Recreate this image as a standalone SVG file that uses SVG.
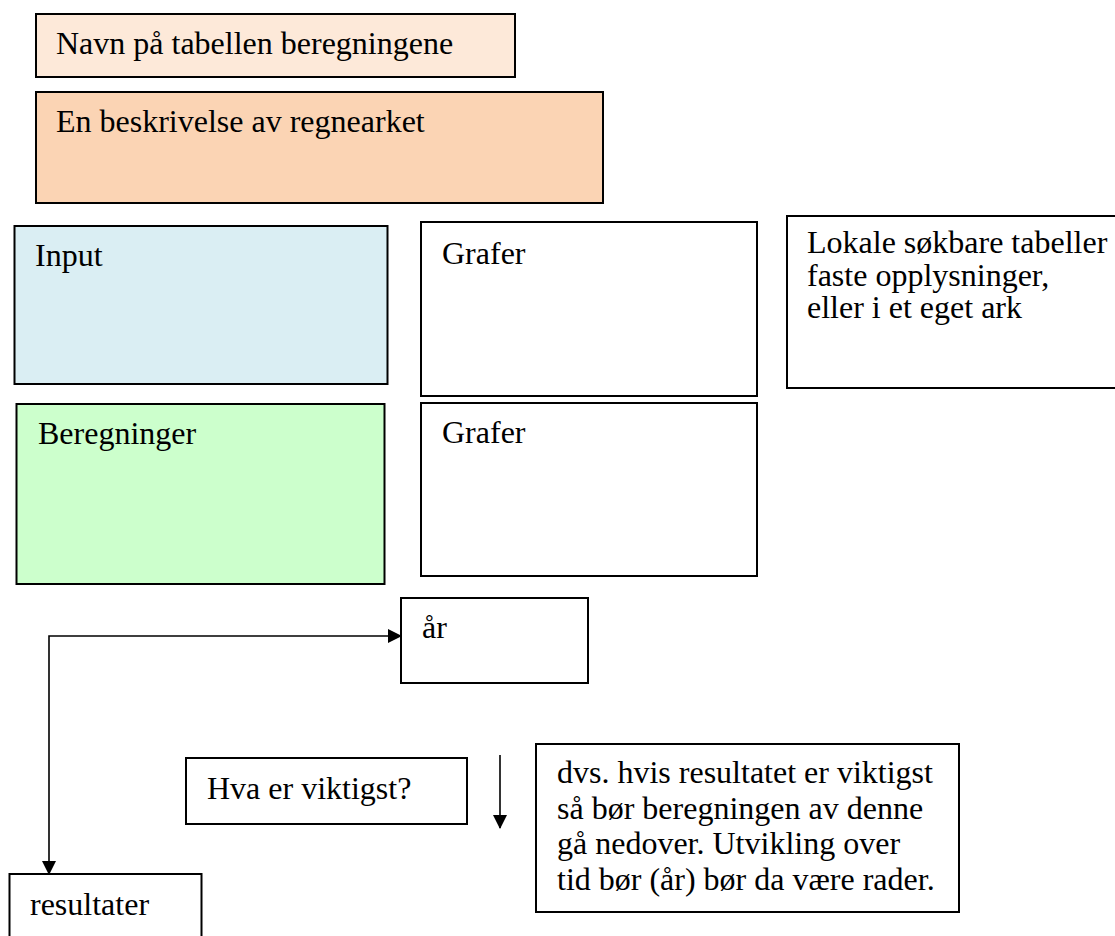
<svg xmlns="http://www.w3.org/2000/svg" width="1115" height="936" viewBox="0 0 1115 936">
<style>
.box{stroke:#000;stroke-width:2}
.t{font-family:"Liberation Serif","Times New Roman",serif;font-size:32px;fill:#000}
.con{fill:none;stroke:#000;stroke-width:1.6}
</style>
<defs>
<marker id="ah" viewBox="0 0 14 14" refX="13" refY="7" markerWidth="14" markerHeight="14" markerUnits="userSpaceOnUse" orient="auto-start-reverse">
<path d="M0,0 L14,7 L0,14 Z" fill="#000"/>
</marker>
</defs>
<rect width="1115" height="936" fill="#fff"/>
<g id="navn"><rect class="box" x="36" y="14" width="479" height="63" fill="#FDE9D9"/><text class="t" x="56" y="54">Navn på tabellen beregningene</text></g>
<g id="beskrivelse"><rect class="box" x="36" y="92" width="567" height="111" fill="#FBD4B4"/><text class="t" x="56" y="132">En beskrivelse av regnearket</text></g>
<g id="input"><rect class="box" x="14.5" y="226" width="373" height="158" fill="#DAEEF3"/><text class="t" x="35" y="266">Input</text></g>
<g id="grafer1"><rect class="box" x="421" y="222" width="336" height="174" fill="#fff"/><text class="t" x="442" y="264">Grafer</text></g>
<g id="lokale"><rect class="box" x="787" y="216" width="340" height="172" fill="#fff"/><text class="t" x="807" y="253">Lokale søkbare tabeller</text><text class="t" x="807" y="286">faste opplysninger,</text><text class="t" x="807" y="318">eller i et eget ark</text></g>
<g id="beregninger"><rect class="box" x="16.5" y="404" width="368" height="180" fill="#CCFFCC"/><text class="t" x="38" y="444">Beregninger</text></g>
<g id="grafer2"><rect class="box" x="421" y="403" width="336" height="173" fill="#fff"/><text class="t" x="442" y="443">Grafer</text></g>
<g id="aar"><rect class="box" x="401" y="598" width="187" height="85" fill="#fff"/><text class="t" x="422" y="638">år</text></g>
<g id="hva"><rect class="box" x="186" y="758" width="281" height="66" fill="#fff"/><text class="t" x="207" y="799">Hva er viktigst?</text></g>
<g id="dvs"><rect class="box" x="536" y="744" width="423" height="168" fill="#fff"/><text class="t" x="557" y="783">dvs. hvis resultatet er viktigst</text><text class="t" x="557" y="818.5">så bør beregningen av denne</text><text class="t" x="557" y="854">gå nedover. Utvikling over</text><text class="t" x="557" y="889.5">tid bør (år) bør da være rader.</text></g>
<g id="resultater"><rect class="box" x="9.5" y="874" width="192" height="80" fill="#fff"/><text class="t" x="30" y="915">resultater</text></g>
<g id="connectors">
<path class="con" d="M49,874 V636 H401" marker-start="url(#ah)" marker-end="url(#ah)"/>
<path class="con" d="M500,755 V828" marker-end="url(#ah)"/>
</g>
</svg>
